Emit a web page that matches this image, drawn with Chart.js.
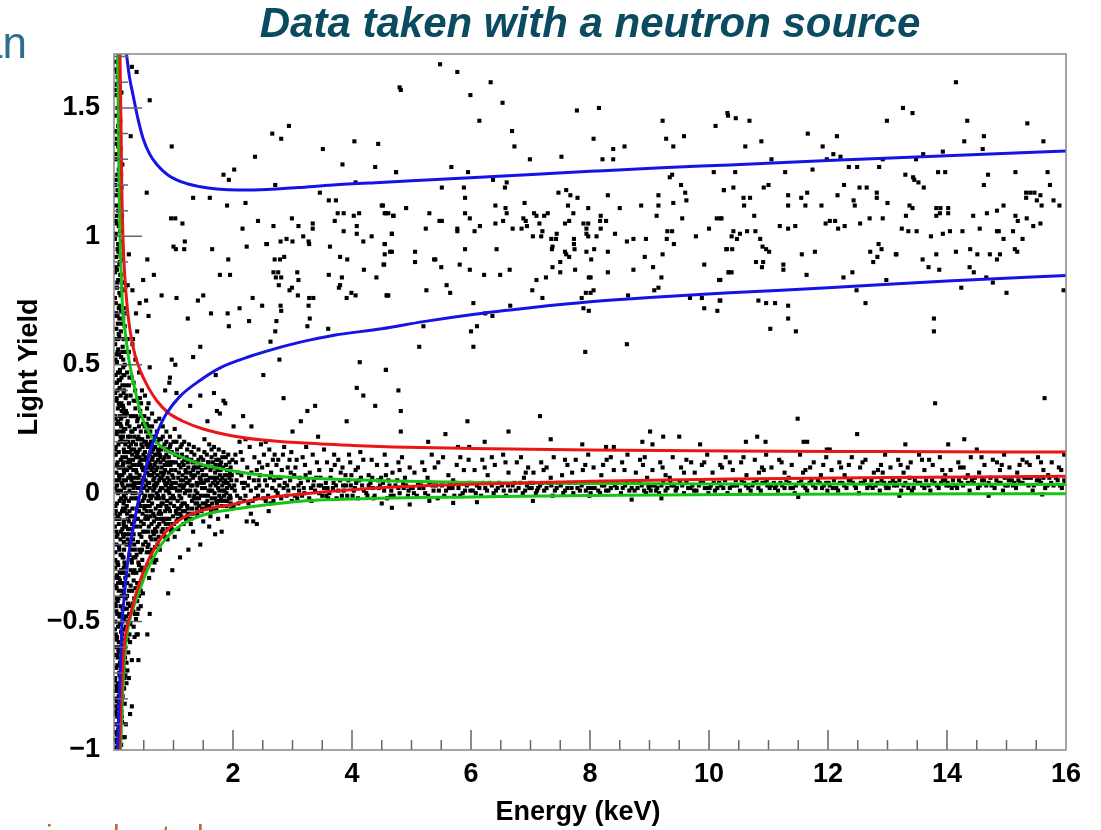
<!DOCTYPE html>
<html>
<head>
<meta charset="utf-8">
<script src="https://cdn.jsdelivr.net/npm/chart.js@4.4.0/dist/chart.umd.min.js"></script>
<style>
  html, body { margin: 0; padding: 0; background: #fff; overflow: hidden; }
  #wrap { position: relative; width: 1101px; height: 830px; overflow: hidden; }
  #plot { position: absolute; left: 0; top: 0; }
  .frag { position: absolute; font-family: "Liberation Sans", Arial, sans-serif; white-space: nowrap; line-height: 1; }
</style>
</head>
<body>
<div id="wrap">
  <canvas id="plot" width="1101" height="830"></canvas>
  <!-- cut-off slide text around the chart -->
  <div class="frag" style="left:-60px;width:87px;text-align:right;top:21px;font-size:44px;line-height:44px;color:#2f6f8a">an</div>
  <div class="frag" style="left:46px;top:821px;font-size:30px;line-height:30px;color:#c8643c">i</div>
  <div class="frag" style="left:113px;top:821px;font-size:30px;line-height:30px;color:#c8643c">l</div>
  <div class="frag" style="left:162px;top:821px;font-size:30px;line-height:30px;color:#c8643c">t</div>
  <div class="frag" style="left:197px;top:821px;font-size:30px;line-height:30px;color:#c8643c">l</div>
</div>
<script>
/* ---------------- TEXT / TICKS ---------------- */
const titleText   = "Data taken with a neutron source";
const xAxisTitle  = "Energy (keV)";
const yAxisTitle  = "Light Yield";
const xTickValues = [2, 4, 6, 8, 10, 12, 14, 16];
const xTickLabels = ["2", "4", "6", "8", "10", "12", "14", "16"];
const yTickValues = [-1, -0.5, 0, 0.5, 1, 1.5];
const yTickLabels = ["\u22121", "\u22120.5", "0", "0.5", "1", "1.5"];

/* ---------------- FIT CURVES (energy keV, light yield) ---------------- */
const blueUpper = [[.21,1.71],[.26,1.62],[.32,1.55],[.4,1.46],[.49,1.38],[.6,1.32],[.72,1.28],[.9,1.24],[1.16,1.21],[1.45,1.193],[1.73,1.184],[2.1,1.18],[2.57,1.182],[3.1,1.19],[3.68,1.2],[4.47,1.21],[5.5,1.222],[6.7,1.237],[8,1.253],[9.2,1.267],[10.35,1.278],[12,1.295],[14,1.314],[16,1.332]];
const blueLower = [[.06,-1],[.08,-.85],[.1,-.72],[.13,-.53],[.18,-.38],[.24,-.25],[.32,-.14],[.4,-.04],[.49,.047],[.57,.13],[.66,.2],[.77,.26],[.88,.309],[1.1,.375],[1.45,.44],[1.8,.49],[2.29,.533],[2.7,.562],[3.13,.588],[3.7,.615],[4.5,.64],[5.2,.668],[6,.695],[7,.722],[8,.745],[9,.762],[10.35,.78],[12,.8],[14,.826],[16,.848]];
const redUpper  = [[.1,1.71],[.12,1.4],[.13,1.2],[.15,1],[.18,.85],[.22,.73],[.27,.633],[.35,.54],[.44,.477],[.58,.41],[.72,.36],[.9,.315],[1.16,.28],[1.5,.25],[2,.223],[2.5,.207],[3.13,.196],[4,.186],[4.69,.18],[6,.174],[8,.168],[10.35,.164],[13,.162],[16,.16]];
const redLower  = [[.09,-1],[.12,-.8],[.17,-.6],[.28,-.47],[.44,-.34],[.6,-.25],[.88,-.148],[1.16,-.096],[1.5,-.066],[2,-.043],[2.5,-.02],[3.13,-.004],[4.47,.021],[6,.035],[8,.046],[10.35,.055],[13,.061],[16,.066]];
const greenUpper = [[.06,1.71],[.08,1.3],[.1,1],[.13,.8],[.15,.7],[.185,.633],[.25,.52],[.32,.4375],[.45,.31],[.6,.23],[.8,.18],[1.16,.138],[1.5,.11],[2,.086],[2.5,.07],[3.13,.06],[4,.052],[4.69,.047],[6,.042],[8,.038],[10.35,.036],[13,.035],[16,.034]];
const greenLower = [[.11,-1],[.14,-.8],[.18,-.63],[.24,-.52],[.38,-.41],[.6,-.279],[.88,-.174],[1.16,-.12],[1.5,-.085],[2,-.063],[3.13,-.031],[4.47,-.02],[6,-.015],[8,-.009],[10.35,-.005],[13,-.003],[16,-.002]];

/* ---------------- EVENTS (energy keV, light yield) ---------------- */
// near-threshold column
const thresholdColumn = [[.03,1.68],[.06,1.62],[.04,1.55],[.09,1.5],[.02,1.47],[.07,1.43],[.05,1.38],[.11,1.34],[.03,1.3],[.08,1.26],[.04,1.22],[.06,1.18],[.1,1.15],[.02,1.12],[.05,1.08],[.08,1.04],[.03,1.01],[.12,.98],[.06,.95],[.04,.92],[.09,.89],[.02,.86],[.07,.83],[.05,.8],[.11,.77],[.03,.74],[.08,.72],[.06,.69],[.13,.66],[.04,.64],[.09,.61],[.02,.58],[.07,.56],[.12,.53],[.05,.51],[.1,.48],[.03,.46],[.08,.44],[.14,.42],[.06,.4],[.11,.38],[.04,.36],[.09,.34],[.13,.32],[.02,.3],[.07,.28],[.12,.26],[.05,.24],[.15,.22],[.1,.2],[.03,.18],[.08,.16],[.14,.14],[.06,.12],[.11,.1],[.04,.08],[.09,.06],[.13,.04],[.02,.02],[.07,0],[.12,-.02],[.05,-.04],[.15,-.06],[.1,-.08],[.03,-.1],[.08,-.12],[.14,-.14],[.06,-.16],[.11,-.18],[.04,-.2],[.09,-.22],[.13,-.24],[.02,-.26],[.07,-.28],[.12,-.3],[.05,-.32],[.1,-.34],[.03,-.36],[.08,-.38],[.13,-.4],[.06,-.42],[.11,-.44],[.04,-.46],[.09,-.48],[.02,-.5],[.07,-.52],[.12,-.54],[.05,-.56],[.1,-.58],[.03,-.6],[.08,-.62],[.06,-.64],[.11,-.66],[.04,-.68],[.09,-.7],[.02,-.72],[.07,-.74],[.05,-.76],[.1,-.78],[.03,-.8],[.08,-.82],[.06,-.84],[.04,-.86],[.09,-.88],[.02,-.9],[.07,-.92],[.05,-.94],[.03,-.96],[.08,-.98],[.04,-.99],
  [.05,1.64],[.1,1.58],[.07,1.35],[.02,1.2],[.09,.96],[.04,.7],[.06,.55],[.1,.3],[.03,.15],[.05,-.1],[.07,-.35],[.09,-.6],[.04,-.75],[.06,-.9],[.1,-.95],[.11,-.85],[.12,-.7],[.13,-.62],[.14,-.5],[.03,-.44],[.06,-.27],[.02,-.08],[.08,.05],[.11,.22],[.05,.43],[.08,.62],[.12,.85],[.07,1.1],
  [.015,1.65],[.045,1.59],[.125,1.56],[.085,1.52],[.015,1.41],[.105,1.45],[.035,1.36],[.095,1.31],[.14,1.28],[.055,1.24],[.125,1.19],[.015,1.16],[.085,1.12],[.135,1.08],[.045,1.05],[.105,1.02],[.015,.99],[.075,.94],[.135,.91],[.035,.88],[.105,.85],[.055,.82],[.145,.79],[.015,.76],[.095,.73],[.035,.7],[.155,.68],[.065,.66],[.115,.63],[.015,.6],[.145,.57],[.085,.54],[.025,.52],[.155,.49],[.065,.47],[.125,.45],[.015,.43],[.095,.41],[.16,.39],[.045,.37],[.125,.35],[.065,.33],[.165,.31],[.025,.29],[.105,.27],[.165,.25],[.045,.23],[.125,.21],[.075,.19],[.165,.17],[.015,.15],[.115,.13],[.045,.11],[.165,.09],[.085,.07],[.025,.05],[.145,.03],[.055,.01],[.165,-.01],[.095,-.03],[.025,-.05],[.135,-.07],[.065,-.09],[.165,-.11],[.015,-.13],[.115,-.15],[.045,-.17],[.165,-.19],[.085,-.21],[.025,-.23],[.145,-.25],[.055,-.27],[.165,-.29],[.095,-.31],[.015,-.33],[.135,-.35],[.045,-.37],[.165,-.39],[.075,-.41],[.025,-.43],[.145,-.45],[.055,-.47],[.165,-.49],[.095,-.51],[.015,-.53],[.135,-.55],[.045,-.57],[.155,-.59],[.075,-.61],[.025,-.63],[.135,-.65],[.055,-.67],[.155,-.69],[.095,-.71],[.015,-.73],[.125,-.75],[.045,-.77],[.145,-.79],[.075,-.81],[.025,-.83],[.125,-.85],[.055,-.87],[.135,-.89],[.095,-.91],[.015,-.93],[.115,-.95],[.045,-.97],[.075,-.99],[.105,-.93],[.13,-.81],[.1,-.66],[.12,-.47],[.14,-.31],[.16,-.12],[.14,.07],[.12,.29],[.1,.47],[.09,.68],[.1,.9],[.12,1.24],[.09,1.6],
  [.02,1.57],[.06,1.5],[.1,1.4],[.04,1.32],[.08,1.16],[.12,1.1],[.03,1.06],[.07,.97],[.11,.93],[.05,.87],[.13,.82],[.09,.78],[.03,.69],[.12,.71],[.07,.6],[.14,.55],[.04,.54],[.1,.44],[.16,.46],[.02,.39],[.08,.35],[.15,.34],[.05,.27],[.11,.24],[.17,.2],[.02,.17],[.08,.1],[.15,.11],[.05,.03],[.12,.01],[.17,-.03],[.03,-.07],[.09,-.1],[.15,-.16],[.04,-.15],[.11,-.24],[.17,-.22],[.02,-.29],[.08,-.33],[.14,-.38],[.05,-.41],[.11,-.48],[.17,-.53],[.03,-.55],[.08,-.58],[.14,-.6],[.05,-.63],[.11,-.7],[.16,-.76],[.03,-.77],[.08,-.79],[.13,-.87],[.05,-.81],[.1,-.89],[.04,-.93],[.09,-.96],[.12,-.98],[.06,-.97],[.02,-.85],[.15,-.95]];

// low-energy fan, 0.15 - 2 keV
const lowEnergyFan = [[.17,.82],[.2,.7],[.23,.6],[.18,.5],[.26,.45],[.21,.38],[.16,.33],[.28,.3],[.19,.25],[.24,.2],[.17,.16],[.27,.12],[.22,.09],[.16,.05],[.29,.03],[.2,0],[.25,-.03],[.18,-.07],[.23,-.1],[.28,-.14],[.16,-.17],[.21,-.2],[.26,-.24],[.19,-.28],[.24,-.32],[.17,-.36],[.22,-.4],[.27,-.44],[.2,-.48],[.18,-.53],[.23,-.57],[.16,-.62],[.21,-.66],[.19,-.71],[.17,-.76],[.25,.55],[.19,.42],[.27,.22],[.2,.14],[.24,.06],[.17,-.01],[.26,-.07],[.2,-.13],[.29,.17],[.22,.27],[.18,.65],[.28,-.3],[.16,-.45],[.25,.35],
  [.31,.58],[.36,.52],[.42,.47],[.33,.43],[.47,.4],[.38,.36],[.44,.32],[.32,.3],[.49,.27],[.35,.25],[.41,.22],[.46,.19],[.34,.17],[.39,.15],[.45,.13],[.31,.11],[.37,.09],[.43,.07],[.48,.05],[.33,.04],[.4,.02],[.46,0],[.35,-.02],[.42,-.04],[.31,-.06],[.48,-.08],[.38,-.1],[.44,-.13],[.33,-.16],[.4,-.19],[.47,-.22],[.36,-.25],[.42,-.28],[.32,-.31],[.39,-.35],[.45,-.38],[.34,-.41],[.41,-.45],[.37,-.49],[.43,.12],[.36,.06],[.47,.1],[.32,.2],[.4,.29],[.45,.24],[.38,-.06],[.49,-.15],[.34,-.2],[.43,.17],[.31,0],[.46,.3],[.37,.14],
  [.52,.38],[.58,.35],[.64,.31],[.7,.28],[.55,.27],[.61,.24],[.67,.22],[.73,.2],[.51,.2],[.57,.18],[.63,.16],[.69,.15],[.74,.13],[.53,.14],[.59,.12],[.65,.1],[.71,.09],[.56,.08],[.62,.07],[.68,.06],[.5,.06],[.73,.04],[.54,.03],[.6,.02],[.66,.01],[.72,0],[.52,-.01],[.58,-.03],[.64,-.04],[.7,-.06],[.55,-.07],[.61,-.09],[.67,-.11],[.73,-.13],[.5,-.12],[.57,-.15],[.63,-.18],[.69,-.21],[.53,-.19],[.6,-.23],[.66,-.26],[.56,-.28],[.62,.2],[.68,.11],[.74,.17],[.54,.1],[.6,-.01],[.66,.05],[.71,-.02],[.58,.29],[.65,.14],[.72,.24],[.52,-.05],[.63,.09],[.57,.04],
  [.76,.29],[.82,.26],[.88,.24],[.94,.22],[.79,.21],[.85,.19],[.91,.17],[.97,.16],[.77,.15],[.83,.13],[.89,.12],[.95,.11],[.8,.1],[.86,.09],[.92,.08],[.98,.07],[.78,.06],[.84,.05],[.9,.04],[.96,.03],[.81,.02],[.87,.01],[.93,0],[.99,-.01],[.76,-.02],[.82,-.04],[.88,-.05],[.94,-.07],[.79,-.08],[.85,-.1],[.91,-.12],[.97,-.14],[.8,-.15],[.86,-.17],[.92,.14],[.78,.12],[.84,.08],[.9,.06],[.96,.09],[.81,.18],[.87,.03],[.93,.05],[.99,.12],[.83,-.01],[.89,-.03],
  [1.02,.25],[1.1,.22],[1.18,.2],[1.26,.19],[1.34,.18],[1.42,.17],[1.06,.17],[1.14,.15],[1.22,.14],[1.3,.13],[1.38,.12],[1.46,.11],[1.04,.12],[1.12,.1],[1.2,.09],[1.28,.08],[1.36,.07],[1.44,.06],[1.08,.06],[1.16,.05],[1.24,.04],[1.32,.03],[1.4,.03],[1.48,.02],[1.03,.02],[1.11,.01],[1.19,0],[1.27,-.01],[1.35,-.01],[1.43,-.02],[1.07,-.03],[1.15,-.04],[1.23,-.05],[1.31,-.06],[1.39,-.06],[1.47,-.07],[1.05,-.08],[1.13,-.09],[1.21,-.1],[1.29,-.1],[1.01,-.12],[1.17,.11],[1.25,.1],[1.33,.09],[1.41,.08],[1.49,.07],[1.09,.08],[1.45,.04],[1.37,.01],[1.13,.03],[1.21,.06],[1.29,.03],[1.35,.15],[1.23,.17],[1.4,-.04],[1.1,-.01],[1.32,.12],[1.46,.14],
  [1.52,.21],[1.6,.19],[1.68,.18],[1.76,.17],[1.84,.16],[1.92,.15],[1.56,.15],[1.64,.14],[1.72,.13],[1.8,.12],[1.88,.11],[1.96,.1],[1.54,.1],[1.62,.09],[1.7,.08],[1.78,.07],[1.86,.07],[1.94,.06],[1.58,.05],[1.66,.04],[1.74,.04],[1.82,.03],[1.9,.02],[1.98,.02],[1.53,.02],[1.61,.01],[1.69,0],[1.77,-.01],[1.85,-.01],[1.93,-.02],[1.57,-.03],[1.65,-.04],[1.73,-.04],[1.81,-.05],[1.89,-.05],[1.97,-.06],[1.55,-.06],[1.63,-.07],[1.71,.11],[1.79,.09],[1.87,.05],[1.95,.08],[1.59,.12],[1.67,.06],[1.75,.02],[1.83,.1],[1.91,.04],[1.99,.13],[1.51,.04],[1.7,-.02],
  [.6,-.47],[.38,-.55],[.56,-.55],[.41,-.65],[.3,-.65],[.3,-.83],[.27,-.86],[.25,-.72],[.2,-.9],[.18,-.95],
  [1.11,-.25],[.91,-.39],[1.45,-.2],[1.25,-.22],[1.33,-.15],[.98,-.3],[1.6,-.13],[1.9,-.09],[2.3,-.08],[2.6,-.07],[1.75,-.1],[1.7,-.16],[1.81,-.15],[1.62,-.09],[1.5,-.11],[2.34,-.11],[2.4,-.12],[2.23,-.11]];

// second and third pass over the dense part of the fan
const lowEnergyFan2 = [[.16,.6],[.19,.55],[.22,.47],[.25,.42],[.28,.38],[.17,.4],[.2,.32],[.23,.28],[.26,.26],[.29,.24],[.16,.24],[.19,.19],[.22,.16],[.25,.13],[.28,.1],[.17,.08],[.2,.05],[.23,.03],[.26,.01],[.29,-.02],[.16,-.04],[.19,-.06],[.22,-.08],[.25,-.11],[.28,-.09],[.17,-.13],[.2,-.16],[.23,-.18],[.26,-.2],[.29,-.22],[.16,-.25],[.19,-.33],[.22,-.35],[.25,-.38],[.28,-.36],[.17,-.45],[.2,-.52],[.23,-.5],[.26,-.55],[.16,-.68],[.19,-.6],[.21,-.74],[.24,-.62],[.27,-.58],[.18,-.82],
  [.3,.45],[.33,.36],[.36,.33],[.39,.28],[.42,.26],[.45,.21],[.48,.18],[.31,.24],[.34,.22],[.37,.19],[.4,.16],[.43,.14],[.46,.11],[.49,.09],[.32,.13],[.35,.11],[.38,.08],[.41,.06],[.44,.04],[.47,.02],[.3,.06],[.33,.02],[.36,0],[.39,-.02],[.42,-.07],[.45,-.05],[.48,-.03],[.31,-.09],[.34,-.11],[.37,-.13],[.4,-.1],[.43,-.16],[.46,-.17],[.49,-.2],[.32,-.18],[.35,-.22],[.38,-.24],[.41,-.27],[.44,-.3],[.47,-.33],[.3,-.27],[.33,-.34],[.36,-.37],[.39,-.42],[.42,-.4],[.31,-.43],[.35,-.47],[.45,-.44],[.33,-.52],[.4,-.55],
  [.51,.3],[.54,.24],[.57,.22],[.6,.19],[.63,.2],[.66,.17],[.69,.18],[.72,.15],[.75,.16],[.78,.14],[.52,.16],[.55,.13],[.58,.1],[.61,.11],[.64,.07],[.67,.08],[.7,.04],[.73,.07],[.76,.05],[.79,.08],[.5,.02],[.53,.05],[.56,.01],[.59,.04],[.62,-.02],[.65,-.01],[.68,.02],[.71,.03],[.74,-.01],[.77,.01],[.51,-.06],[.54,-.09],[.57,-.1],[.6,-.05],[.63,-.12],[.66,-.08],[.69,-.14],[.72,-.1],[.75,-.08],[.78,-.05],[.52,-.15],[.55,-.23],[.58,-.2],[.61,-.17],[.64,-.22],[.67,-.16],[.7,-.18],[.73,-.2],[.76,-.12],[.79,-.1],[.53,-.3],[.59,-.33],[.65,-.3],[.71,-.26],[.77,-.22],
  [.82,.22],[.88,.2],[.94,.18],[1,.2],[1.06,.15],[1.12,.18],[1.18,.13],[1.24,.12],[1.3,.16],[1.36,.1],[1.42,.13],[1.48,.09],[.85,.14],[.91,.11],[.97,.12],[1.03,.09],[1.09,.11],[1.15,.07],[1.21,.08],[1.27,.05],[1.33,.06],[1.39,.04],[1.45,.06],[.8,.06],[.86,.04],[.92,.02],[.98,.04],[1.04,.04],[1.1,.03],[1.16,.02],[1.22,.01],[1.28,.01],[1.34,-.02],[1.4,0],[1.46,-.01],[.83,-.02],[.89,-.06],[.95,-.04],[1.01,-.05],[1.07,-.06],[1.13,-.05],[1.19,-.07],[1.25,-.08],[1.31,-.03],[1.37,-.04],[1.43,-.05],[1.49,-.04],[.81,-.1],[.87,-.12],[.93,-.1],[.99,-.09],[1.05,-.11],[1.11,-.08],[1.17,-.12],[1.23,-.09],[1.29,-.12],[.84,-.16],[.9,-.18],[.96,-.15],[1.02,-.17],[1.08,-.14],
  [1.52,.16],[1.58,.12],[1.64,.17],[1.7,.15],[1.76,.13],[1.82,.14],[1.88,.14],[1.94,.12],[1.55,.07],[1.61,.06],[1.67,.1],[1.73,.06],[1.79,.05],[1.85,.04],[1.91,.07],[1.97,.05],[1.53,-.01],[1.59,.01],[1.65,.01],[1.71,.03],[1.77,.01],[1.83,.01],[1.89,0],[1.95,-.01],[1.54,-.04],[1.6,-.05],[1.66,-.06],[1.72,-.06],[1.78,-.03],[1.84,-.03],[1.9,-.03],[1.96,-.04],
  [.155,.52],[.175,.46],[.195,.37],[.215,.31],[.235,.22],[.255,.18],[.275,.07],[.295,.05],[.155,.12],[.175,.02],[.195,-.02],[.215,-.05],[.235,-.14],[.255,-.16],[.275,-.19],[.295,-.26],[.155,-.31],[.175,-.27],[.195,-.41],[.215,-.45],[.235,-.43],[.255,-.47],[.275,-.51],[.165,-.57],[.185,-.64],[.205,-.57],[.225,-.69],[.175,-.72],[.165,.72],[.185,.3],[.205,.2],[.225,.12],[.245,.1],[.265,.16],[.285,.19],[.305,.15],[.325,.09],[.345,.03],[.305,-.12],[.325,-.25],[.345,-.3],[.305,-.38],[.325,-.46],[.345,-.56],
  [.355,.4],[.375,.3],[.395,.21],[.415,.11],[.435,.02],[.455,-.11],[.475,-.26],[.495,-.3],[.365,.16],[.385,.04],[.405,-.07],[.425,-.22],[.445,-.23],[.465,-.29],[.485,-.39],[.505,.13],[.525,.09],[.545,.19],[.565,.12],[.585,.07],[.505,-.02],[.525,-.1],[.545,-.05],[.565,-.21],[.585,-.13],[.375,-.31],[.395,-.47],[.415,-.36],[.435,.37],[.455,.35],[.475,.21],[.495,.15],[.515,.26],[.535,.2],[.555,.33],[.575,.26],[.595,.15],
  [.61,.16],[.64,.13],[.67,.03],[.7,.12],[.73,.1],[.76,.21],[.79,.02],[.82,.07],[.85,.11],[.88,.15],[.91,.01],[.94,.12],[.97,.02],[1,.06],[1.03,.15],[1.06,.01],[1.09,.14],[1.12,.05],[1.15,.12],[1.18,.03],[.62,-.07],[.65,-.15],[.68,-.09],[.71,-.15],[.74,-.05],[.77,-.07],[.8,-.04],[.83,-.11],[.86,-.07],[.89,-.1],[.92,-.06],[.95,-.02],[.98,-.12],[1.01,-.02],[1.04,-.07],[1.07,-.1],[1.1,-.06],[1.13,-.02],[1.16,-.07],[1.19,-.04],[.63,-.25],[.68,-.27],[.75,-.17],[.82,-.14],[.9,-.14],[.64,.26],[.7,.22],[.79,.17],[.87,.17],[.95,.19],[1.05,.2],[1.14,.19],
  [1.22,.04],[1.26,.13],[1.3,.07],[1.34,.1],[1.38,-.02],[1.42,.1],[1.46,.05],[1.5,.13],[1.54,.05],[1.58,-.01],[1.62,.03],[1.66,.12],[1.7,.05],[1.74,.09],[1.78,.11],[1.82,.06],[1.86,.01],[1.9,.09],[1.94,.03],[1.98,.07],[1.24,-.06],[1.32,-.08],[1.4,-.08],[1.48,-.06],[1.56,-.05],[1.64,-.02],[1.72,-.03],[1.8,-.02],[1.88,-.03],[1.96,-.02]];

// main low light-yield band, 2 - 16 keV
const lowBand = [[2.03,.01],[2.09,-.04],[2.15,.04],[2.21,-.01],[2.27,.06],[2.33,-.03],[2.39,.02],[2.45,.07],[2.51,-.02],[2.57,.03],[2.63,-.04],[2.69,.05],[2.75,0],[2.81,-.02],[2.87,.04],[2.93,.01],[2.99,-.03],[2.06,.05],[2.18,.02],[2.3,.01],[2.42,-.01],[2.54,.05],[2.66,.02],[2.78,.03],[2.9,-.01],
  [2.05,.12],[2.13,.16],[2.24,.1],[2.36,.14],[2.47,.19],[2.58,.11],[2.7,.15],[2.82,.09],[2.95,.13],[2.11,.2],[2.4,.09],[2.61,.17],[2.86,.18],[2.73,.11],
  [3.02,.02],[3.08,-.02],[3.14,.04],[3.2,0],[3.26,.05],[3.32,-.03],[3.38,.01],[3.44,.03],[3.5,-.01],[3.56,.04],[3.62,0],[3.68,.02],[3.74,-.02],[3.8,.05],[3.86,.01],[3.92,-.01],[3.98,.03],[3.11,.01],[3.35,.03],[3.59,.02],[3.83,-.01],
  [3.05,.1],[3.17,.14],[3.29,.08],[3.41,.12],[3.53,.17],[3.65,.09],[3.77,.13],[3.89,.07],[3.95,.15],[3.23,.18],[3.47,.06],[3.71,.11],
  [4.03,.01],[4.1,-.02],[4.17,.03],[4.24,0],[4.31,.04],[4.38,-.01],[4.45,.02],[4.52,.04],[4.59,-.02],[4.66,.01],[4.73,.03],[4.8,0],[4.87,.02],[4.94,-.01],[4.07,.04],[4.35,.02],[4.63,.03],[4.91,.03],
  [4.06,.09],[4.19,.13],[4.28,.07],[4.42,.11],[4.55,.15],[4.68,.08],[4.78,.12],[4.97,.1],[4.14,.16],[4.49,.06],[4.84,.14],
  [5.02,.02],[5.09,-.01],[5.16,.03],[5.23,0],[5.3,.04],[5.37,.01],[5.44,-.02],[5.51,.03],[5.58,.01],[5.65,.04],[5.72,-.01],[5.79,.02],[5.86,0],[5.93,.03],[5.99,.01],[5.13,.02],[5.41,.03],[5.69,.02],
  [5.05,.08],[5.18,.12],[5.27,.06],[5.39,.1],[5.53,.14],[5.62,.07],[5.76,.11],[5.88,.09],[5.96,.13],[5.34,.15],[5.7,.05],
  [6.03,.01],[6.1,.03],[6.17,-.01],[6.24,.02],[6.31,.04],[6.38,0],[6.45,.02],[6.52,.03],[6.59,-.01],[6.66,.01],[6.73,.04],[6.8,.02],[6.87,0],[6.94,.03],[6.14,.02],[6.42,.01],[6.7,.03],[6.98,.02],
  [6.06,.09],[6.19,.13],[6.28,.07],[6.4,.11],[6.54,.15],[6.63,.08],[6.77,.12],[6.89,.06],[6.96,.1],[6.35,.14],[6.84,.14],
  [7.02,.02],[7.09,0],[7.16,.03],[7.23,.01],[7.3,.04],[7.37,-.01],[7.44,.02],[7.51,.03],[7.58,.01],[7.65,.04],[7.72,0],[7.79,.02],[7.86,.03],[7.93,.01],[7.99,-.01],[7.13,.02],[7.41,.01],[7.69,.02],
  [7.05,.08],[7.18,.12],[7.27,.1],[7.39,.14],[7.53,.07],[7.62,.11],[7.76,.13],[7.88,.09],[7.97,.15],[7.34,.06],[7.7,.08],
  [8.03,.02],[8.1,.04],[8.17,0],[8.24,.03],[8.31,.01],[8.38,.04],[8.45,.02],[8.52,0],[8.59,.03],[8.66,.01],[8.73,.04],[8.8,.02],[8.87,.03],[8.94,0],[8.14,.01],[8.42,.03],[8.7,.02],[8.98,.03],
  [8.06,.1],[8.19,.07],[8.28,.13],[8.4,.09],[8.54,.12],[8.63,.15],[8.77,.08],[8.89,.11],[8.96,.06],[8.35,.14],[8.84,.13],
  [9.02,.01],[9.09,.03],[9.16,0],[9.23,.04],[9.3,.02],[9.37,.03],[9.44,.01],[9.51,.04],[9.58,0],[9.65,.02],[9.72,.03],[9.79,.01],[9.86,.04],[9.93,.02],[9.99,0],[9.13,.02],[9.41,.03],[9.69,.02],
  [9.05,.09],[9.18,.12],[9.27,.07],[9.39,.14],[9.53,.1],[9.62,.13],[9.76,.08],[9.88,.11],[9.97,.15],[9.34,.06],[9.7,.12],
  [10.03,.03],[10.1,.01],[10.17,.04],[10.24,.02],[10.31,0],[10.38,.03],[10.45,.05],[10.52,.01],[10.59,.04],[10.66,.02],[10.73,.03],[10.8,.05],[10.87,.01],[10.94,.04],[10.14,.02],[10.42,.03],[10.7,.01],[10.98,.03],
  [10.06,.08],[10.19,.11],[10.28,.14],[10.4,.09],[10.54,.12],[10.63,.07],[10.77,.13],[10.89,.1],[10.96,.15],[10.35,.12],[10.84,.08],
  [11.02,.02],[11.09,.04],[11.16,.01],[11.23,.03],[11.3,.05],[11.37,.02],[11.44,0],[11.51,.04],[11.58,.03],[11.65,.01],[11.72,.05],[11.79,.02],[11.86,.04],[11.93,.03],[11.99,.01],[11.13,.03],[11.41,.02],[11.69,.04],
  [11.05,.1],[11.18,.13],[11.27,.08],[11.39,.11],[11.53,.15],[11.62,.09],[11.76,.12],[11.88,.07],[11.97,.14],[11.34,.06],[11.7,.1],
  [12.03,.03],[12.1,.05],[12.17,.01],[12.24,.04],[12.31,.02],[12.38,.05],[12.45,.03],[12.52,0],[12.59,.04],[12.66,.02],[12.73,.05],[12.8,.03],[12.87,.01],[12.94,.04],[12.14,.02],[12.42,.04],[12.7,.03],[12.98,.02],
  [12.06,.09],[12.19,.12],[12.28,.07],[12.4,.14],[12.54,.1],[12.63,.13],[12.77,.08],[12.89,.11],[12.96,.15],[12.35,.11],[12.84,.09],
  [13.02,.02],[13.09,.05],[13.16,.03],[13.23,.01],[13.3,.04],[13.37,.06],[13.44,.02],[13.51,.04],[13.58,.03],[13.65,.05],[13.72,.01],[13.79,.04],[13.86,.02],[13.93,.05],[13.99,.03],[13.13,.04],[13.41,.01],[13.69,.03],
  [13.05,.1],[13.18,.13],[13.27,.08],[13.39,.12],[13.53,.15],[13.62,.09],[13.76,.11],[13.88,.14],[13.97,.07],[13.34,.1],[13.7,.13],
  [14.03,.03],[14.1,.05],[14.17,.02],[14.24,.04],[14.31,.06],[14.38,.01],[14.45,.04],[14.52,.02],[14.59,.05],[14.66,.03],[14.73,.06],[14.8,.02],[14.87,.04],[14.94,.01],[14.14,.03],[14.42,.05],[14.7,.04],[14.98,.03],
  [14.06,.09],[14.19,.12],[14.28,.1],[14.4,.14],[14.54,.08],[14.63,.11],[14.77,.13],[14.89,.09],[14.96,.15],[14.35,.07],[14.84,.12],
  [15.02,.03],[15.09,.05],[15.16,.02],[15.23,.04],[15.3,.06],[15.37,.03],[15.44,.01],[15.51,.05],[15.58,.04],[15.65,.02],[15.72,.06],[15.79,.03],[15.86,.05],[15.93,.02],[15.99,.04],[15.13,.04],[15.41,.06],[15.69,.03],
  [15.05,.1],[15.18,.08],[15.27,.13],[15.39,.11],[15.53,.14],[15.62,.09],[15.76,.12],[15.88,.1],[15.97,.15],[15.34,.12],[15.7,.07],
  [4.67,-.057],[4.97,-.044],[5.7,-.038],[5.3,-.03],[7.04,-.03],[4.5,-.04],[8.7,-.025],[9.2,-.02],[6.1,-.035],[11.5,-.015],[13.2,-.01],[14.7,-.01],[15.6,-.005]];

// second pass over the band
const lowBand2 = [[2.01,-.05],[2.08,.08],[2.12,-.02],[2.2,.04],[2.26,-.04],[2.35,.05],[2.44,.03],[2.5,.01],[2.59,-.01],[2.68,-.03],[2.76,.06],[2.85,.02],[2.96,.05],[2.04,.15],[2.16,.13],[2.28,.18],[2.44,.12],[2.52,.15],[2.64,.08],[2.76,.13],[2.92,.1],[2.98,.16],[2.21,.21],[2.55,.2],
  [3.04,-.01],[3.12,.06],[3.19,.02],[3.28,-.02],[3.36,.05],[3.45,0],[3.53,.02],[3.6,-.02],[3.69,.04],[3.77,.01],[3.85,.03],[3.94,.05],[3.07,.13],[3.21,.11],[3.34,.15],[3.45,.09],[3.58,.12],[3.7,.15],[3.84,.1],[3.97,.12],
  [4.01,-.01],[4.12,.05],[4.2,.01],[4.28,.03],[4.36,-.02],[4.44,.05],[4.54,.01],[4.61,.05],[4.7,-.01],[4.78,.02],[4.86,.04],[4.95,.01],[4.1,.1],[4.33,.13],[4.58,.11],[4.8,.09],
  [5.04,0],[5.11,.04],[5.2,.02],[5.28,-.01],[5.35,.03],[5.46,.01],[5.55,-.01],[5.63,.02],[5.74,.04],[5.82,-.01],[5.9,.01],[5.97,.04],[5.22,.09],[5.45,.12],[5.82,.14],
  [6.01,.04],[6.08,0],[6.2,.04],[6.27,.01],[6.35,.03],[6.47,.04],[6.55,.01],[6.62,.03],[6.75,.01],[6.83,.04],[6.91,.01],[6.99,.04],[6.23,.1],[6.58,.12],[6.92,.08],
  [7.04,.04],[7.11,.01],[7.2,.04],[7.27,.02],[7.35,.03],[7.46,.04],[7.55,0],[7.62,.02],[7.75,.04],[7.83,.01],[7.9,.04],[7.97,.02],[7.22,.09],[7.58,.13],[7.92,.11],
  [8.01,0],[8.08,.02],[8.2,.03],[8.27,.01],[8.35,.02],[8.47,.04],[8.55,.02],[8.62,.04],[8.75,.01],[8.83,.04],[8.91,.01],[8.99,.02],[8.22,.11],[8.58,.09],[8.92,.14],
  [9.04,.03],[9.11,.01],[9.2,.03],[9.27,.01],[9.35,.04],[9.46,.02],[9.55,.03],[9.62,.04],[9.75,.01],[9.83,.03],[9.9,.04],[9.97,.02],[9.22,.1],[9.58,.08],[9.92,.12],
  [10.01,.02],[10.08,.04],[10.2,.03],[10.27,.05],[10.35,.02],[10.47,.03],[10.55,.05],[10.62,.03],[10.75,.04],[10.83,.02],[10.9,.04],[10.97,.05],[10.22,.1],[10.58,.14],[10.92,.09],
  [11.04,.03],[11.11,.02],[11.2,.04],[11.27,.02],[11.35,.04],[11.46,.03],[11.55,.05],[11.62,.02],[11.75,.03],[11.83,.05],[11.9,.02],[11.97,.04],[11.22,.12],[11.58,.08],[11.92,.11],
  [12.01,.04],[12.08,.02],[12.2,.04],[12.27,.03],[12.35,.05],[12.47,.02],[12.55,.04],[12.62,.05],[12.75,.02],[12.83,.04],[12.9,.05],[12.97,.03],[12.22,.1],[12.58,.12],[12.92,.08],
  [13.04,.04],[13.11,.03],[13.2,.05],[13.27,.03],[13.35,.02],[13.46,.05],[13.55,.04],[13.62,.02],[13.75,.05],[13.83,.03],[13.9,.04],[13.97,.05],[13.22,.11],[13.58,.13],[13.92,.09],
  [14.01,.04],[14.08,.02],[14.2,.05],[14.27,.03],[14.35,.04],[14.47,.06],[14.55,.03],[14.62,.05],[14.75,.03],[14.83,.05],[14.9,.04],[14.97,.06],[14.22,.1],[14.58,.14],[14.92,.11],
  [15.04,.05],[15.11,.03],[15.2,.05],[15.27,.04],[15.35,.06],[15.46,.03],[15.55,.05],[15.62,.06],[15.75,.04],[15.83,.06],[15.9,.03],[15.97,.05],[15.22,.11],[15.58,.12],[15.92,.09],
  [2.02,.03],[2.07,-.01],[2.14,.07],[2.19,-.03],[2.25,.03],[2.31,.08],[2.37,-.02],[2.43,.05],[2.49,.1],[2.55,-.03],[2.62,.06],[2.67,.13],[2.72,.01],[2.8,.06],[2.84,.15],[2.91,.03],[2.97,.08],[3.03,.07],[3.1,.03],[3.16,-.01],[3.22,.07],[3.31,.02],[3.4,.06],[3.48,.03],[3.57,-.01],[3.64,.06],[3.73,.03],[3.81,.08],[3.9,.03],[3.99,.07],[4.05,.02],[4.15,.06],[4.26,-.01],[4.34,.06],[4.47,.03],[4.57,.07],[4.65,-.01],[4.76,.05],[4.89,.06],[4.99,.02]];

// sparse events between the bands
const midEvents = [[1.45,.57],[1.33,.53],[.97,.52],[1.03,.5],[.6,.49],[.94,.45],[.93,.43],[.86,.4],[1.05,.39],[1.45,.38],[1.28,.34],[1.71,.46],[1.68,.39],[1.84,.36],[1.87,.35],[1.73,.32],[1.78,.31],[1.57,.28],[2.01,.26],[2.17,.3],[2.31,.26],[2.51,.46],[2.63,.59],[2.78,.52],[2.85,.37],[3,.24],[3.25,.32],[3.38,.34],[3.14,.28],[3.43,.22],[3.91,.28],[4.13,.51],[4.08,.41],[4.19,.38],[4.39,.34],[4.57,.48],[4.78,.4],[4.82,.32],[4.82,.24],[5.94,.28],[7.16,.3],[5.57,.23],[6.63,.24],[7.34,.21],[5.28,.2],[6.23,.2],[7.87,.19],[8.88,.2],[9.01,.24],[9.23,.22],[9.5,.22],[9.85,.19],[9.05,.19],[8.27,.18],[8.4,.18],[5.78,.18],[5.97,.18],[13.8,.35],[15.64,.37],[11.49,.29],[12.49,.23],[10.62,.2],[10.81,.22],[10.95,.2],[11.59,.2],[11.65,.2],[13.3,.19],[14.02,.19],[14.29,.21],[11.98,.17],[12.03,.17],[14.5,.17]];

// upper (electron-recoil like) band
const upperBand = [[.3,1.66],[.38,1.64],[.6,1.53],[.28,1.39],[.97,1.35],[.55,1.17],[2.37,1.31],[2.66,1.4],[2.81,1.38],[2.94,1.43],[3.51,1.34],[4.04,1.37],[4.44,1.36],[4.8,1.58],[3.84,1.28],[4.39,1.27],[4.74,1.25],[4.06,1.21],[1.84,1.24],[2.02,1.26],[1.93,1.22],[2.71,1.2],[1.33,1.15],[1.61,1.15],[1.9,1.12],[2.21,1.13],[3.46,1.17],[3.61,1.14],[3.73,1.14],[.96,1.07],[1.03,1.07],[1.15,1.05],[1.19,.98],[1,.96],[1.04,.95],[1.18,.95],[1.65,.95],[2.16,1.03],[2.42,1.06],[2.68,1.04],[2.99,1.07],[3.1,1.04],[3.34,1.05],[3.34,1.03],[2.57,.97],[2.8,.98],[2.9,.99],[3,.98],[3.18,1],[3.27,.98],[3.28,.97],[3.71,1.06],[3.76,1.09],[3.86,1.09],[4.03,1.08],[4.12,1.09],[4.08,1.04],[3.86,1.02],[4.19,.98],[4.33,1],[4.52,1.12],[4.57,1.09],[4.7,1.08],[4.67,1.01],[4.55,.97],[4.64,.94],[2.23,.96],[2.56,.97],[2.7,.91],[2.79,.91],[2.86,.92],[2.68,.86],[2.76,.86],[2.72,.84],[2.81,.84],[2.77,.81],[3.08,.86],[3.1,.83],[2.99,.8],[2.95,.79],[1.78,.85],[1.95,.85],[1.92,.91],[.56,.91],[.67,.85],[.49,.83],[.8,.77],[1.05,.76],[1.41,.75],[1.5,.77],[1.24,.68],[1.63,.7],[1.91,.7],[1.93,.65],[2.11,.72],[2.27,.67],[2.33,.76],[2.49,.73],[2.8,.73],[2.81,.71],[3.09,.77],[3.27,.73],[3.29,.68],[3.28,.76],[3.25,.65],[2.73,.67],[2.71,.63],[3.6,.64],[3.35,.76],[3.61,.85],[3.8,.81],[3.91,.76],[3.78,.8],[3.83,.84],[3.99,.78],[4.06,.77],[4.2,.87],[4.41,.84],[4.54,.89],[4.59,.77],[3.92,.91],[3.8,.92],[3.63,.96],[4.08,1.01],[.43,.74],[.54,.75],[.58,.69],[.37,.7],[.39,.63],[.32,.6],[.23,.81],[.31,.79],[.25,.93],
  [5.48,1.67],[5.77,1.64],[4.82,1.57],[6.33,1.6],[5.99,1.55],[6.53,1.52],[6.14,1.45],[6.69,1.41],[6.73,1.35],[7.78,1.49],[8.15,1.5],[8.06,1.38],[6.99,1.3],[7.52,1.31],[8.21,1.3],[8.39,1.34],[8.39,1.3],[8.58,1.35],[9.22,1.45],[9.28,1.38],[9.4,1.35],[9.58,1.39],[10.11,1.43],[10.32,1.47],[5.67,1.27],[4.74,1.25],[5.95,1.25],[6.37,1.22],[5.51,1.19],[5.88,1.19],[5.9,1.15],[6.57,1.19],[6.6,1.21],[9.38,1.24],[9.34,1.23],[9.53,1.2],[9.6,1.17],[9.62,1.14],[10.08,1.25],[10.25,1.18],[9.15,1.16],[8.3,1.16],[7.47,1.17],[7.6,1.18],[7.67,1.16],[7.79,1.15],[6.9,1.13],[4.5,1.12],[4.55,1.09],[4.61,1.09],[4.69,1.08],[4.91,1.11],[5.3,1.09],[5.47,1.06],[5.51,1.06],[5.77,1.03],[5.77,1.02],[5.9,1.09],[5.98,1.07],[6.15,1.04],[6.06,1.02],[6.41,1.12],[6.58,1.11],[6.6,1.09],[6.41,1.05],[6.54,1.06],[6.7,1.03],[6.85,1.03],[6.88,1.07],[6.92,1.06],[6.94,1.04],[7.06,1.09],[7.1,1.08],[7.15,1.05],[7.23,1.08],[7.29,1.09],[7.2,1.02],[7.04,1],[7.18,1],[7.44,1.01],[7.35,.99],[7.43,.99],[7.37,.96],[7.36,.95],[7.58,1.05],[7.65,1.06],[7.72,1.09],[7.63,1.12],[7.89,1.05],[7.97,1.05],[7.94,1.03],[7.94,1.01],[7.97,1],[7.97,1.11],[8.18,1.08],[8.17,1.06],[8.27,1.06],[8.18,1.03],[8.11,1],[8.5,1.11],[8.42,1.01],[7.73,.99],[7.73,.97],[7.74,.95],[7.58,.94],[7.6,.93],[7.65,.92],[8.02,.91],[7.94,.94],[8.07,.95],[8.3,.94],[8.62,.98],[8.73,.99],[8.94,.99],[8.86,1.12],[9.15,1.12],[9.12,1.08],[9.3,1.02],[9.38,1.02],[9.29,.99],[9.41,.97],[9.22,.93],[8.92,.92],[9.06,.88],[9.2,.84],[9.4,1.13],[9.55,1.07],[9.78,1],[10,1.03],[10.13,1.07],[10.21,1.07],[10.3,.95],[9.92,.89],[10.17,.83],[10.33,.86],[8.73,.87],[8.3,.86],[7.98,.84],[8.01,.84],[7.75,.87],[7.5,.86],[7.37,.88],[7.5,.9],[7.26,.84],[7.1,.83],[7.03,.79],[7.2,.76],[6.43,.95],[5.81,.89],[5.98,.87],[6.22,.85],[6.49,.85],[6.65,.87],[5.06,.94],[5.06,.9],[5.38,.91],[5.4,.91],[5.5,.88],[5.9,.95],[5.24,1.03],[4.55,.97],[4.55,.93],[4.67,.94],[4.67,1.01],[4.53,.89],[4.58,.77],[4.61,.77],[5.25,.79],[5.59,.81],[5.65,.78],[6.04,.74],[6.1,.65],[6,.63],[6.24,.7],[6.36,.69],[6.66,.73],[5.2,.65],[5.13,.57],[6.04,.57],[4.57,.48],[7.89,.72],[7.98,.71],[8.06,.79],[8.01,.78],[7.93,.78],[7.86,.76],[7.92,.55],[8.62,.58],[8.64,.77],[9.08,.79],[9.15,.8],[9.68,.76],[9.88,.76],[9.92,.72],[10.14,.71],[10.18,.75],
  [14.15,1.6],[13.26,1.5],[13.42,1.48],[12.99,1.45],[14.34,1.45],[15.35,1.44],[10.31,1.48],[10.45,1.46],[10.68,1.45],[11.66,1.4],[12.15,1.39],[11.91,1.35],[11.98,1.3],[12.09,1.32],[12.21,1.31],[10.61,1.35],[10.88,1.37],[11.05,1.3],[14.29,1.37],[14.62,1.39],[14.6,1.34],[15.62,1.37],[13.6,1.32],[13.93,1.33],[13.48,1.3],[12.92,1.3],[10.44,1.25],[10.41,1.19],[10.25,1.18],[10.92,1.19],[11,1.2],[11.28,1.25],[11.74,1.26],[12.35,1.27],[12.49,1.27],[12.86,1.27],[13.3,1.24],[13.43,1.23],[13.45,1.22],[13.52,1.21],[13.61,1.19],[13.85,1.25],[13.97,1.25],[14.62,1.2],[14.69,1.24],[15.15,1.25],[15.69,1.25],[15.73,1.2],[15.89,1.12],[15.79,1.14],[10.58,1.15],[10.69,1.15],[10.59,1.12],[11.33,1.16],[11.55,1.15],[11.65,1.17],[11.33,1.12],[11.62,1.12],[11.89,1.12],[12.16,1.16],[12.27,1.2],[12.43,1.14],[12.45,1.12],[12.53,1.19],[12.65,1.19],[12.82,1.17],[12.82,1.15],[13,1.13],[12.92,1.07],[13.37,1.12],[13.42,1.11],[13.31,1.08],[13.82,1.11],[13.89,1.11],[14.02,1.11],[14.02,1.09],[13.82,1.08],[13.88,1.09],[14.44,1.08],[14.67,1.09],[14.84,1.1],[14.95,1.12],[15.33,1.17],[15.4,1.17],[15.47,1.17],[15.57,1.16],[15.33,1.15],[15.51,1.14],[15.59,1.12],[15.15,1.08],[15.19,1.06],[15.34,1.07],[15.45,1.04],[15.57,1.05],[10.19,1.07],[10.41,1.02],[10.47,.99],[10.38,1],[10.52,1.01],[10.64,1.02],[10.78,1.02],[10.76,1.08],[10.86,.99],[11.19,1.04],[11.33,1.03],[11.45,1.04],[11.96,1.05],[12.03,1.06],[12.12,1.06],[12.17,1.03],[12.28,1.04],[12.54,1.05],[12.7,1.07],[13.24,1.03],[13.35,1.02],[13.49,1.02],[13.73,1],[13.93,1.01],[14.05,1.02],[14.26,1.02],[14.55,1.03],[14.84,1.02],[14.87,1.02],[14.95,.99],[15.11,1.02],[15.27,.99],[10.29,.95],[10.39,.95],[10.9,.96],[10.96,.95],[11.01,.94],[10.79,.9],[10.91,.9],[10.89,.88],[11.25,.89],[11.25,.87],[11.56,.93],[11.78,.94],[10.33,.86],[10.38,.86],[10.19,.83],[11.64,.85],[12.71,.94],[12.76,.9],[12.83,.92],[12.85,.97],[12.9,.95],[13.14,.93],[13.15,.93],[12.26,.84],[12.41,.86],[13.59,.91],[13.69,.88],[13.82,.93],[13.87,.87],[14.15,.94],[14.39,.95],[14.51,.93],[14.72,.93],[14.84,.91],[14.89,.93],[14.38,.88],[14.45,.86],[15.14,.95],[15.18,.94],[10.19,.75],[10.83,.75],[10.96,.74],[11.11,.74],[11.33,.73],[11.33,.68],[11.03,.64],[11.46,.63],[12.48,.79],[12.63,.74],[12.98,.83],[13.78,.68],[13.78,.63],[14.24,.8],[14.66,.84],[14.77,.82],[15,.78],[15.96,.79]];
/* ---------------------------------------------- */

const FONT = '"Liberation Sans", Arial, Helvetica, sans-serif';
const toXY = arr => arr.map(p => ({ x: p[0], y: p[1] }));

const allEvents = [].concat(thresholdColumn, lowEnergyFan, lowEnergyFan2, lowBand, lowBand2, midEvents, upperBand);

function curve(points, color) {
    return {
        data: toXY(points),
        showLine: true,
        borderColor: color,
        borderWidth: 3,
        pointRadius: 0,
        fill: false,
        cubicInterpolationMode: 'monotone',
        clip: 0,
        order: 0
    };
}

/* ROOT-style frame, inward ticks and axis titles */
const rootFrame = {
    id: 'rootFrame',
    afterDatasetsDraw(chart) {
        const { ctx, chartArea: a, scales: { x, y } } = chart;
        ctx.save();
        ctx.strokeStyle = '#666';
        ctx.lineWidth = 1.5;
        ctx.beginPath();
        for (let i = 1; i < 32; i++) {
            const px = x.getPixelForValue(i / 2);
            const len = i % 4 === 0 ? 20 : 10;
            ctx.moveTo(px, a.bottom);
            ctx.lineTo(px, a.bottom - len);
        }
        for (let i = -9; i <= 17; i++) {
            const py = y.getPixelForValue(i / 10);
            const len = i % 5 === 0 ? 28 : 14;
            ctx.moveTo(a.left, py);
            ctx.lineTo(a.left + len, py);
        }
        ctx.stroke();
        ctx.strokeStyle = '#888';
        ctx.strokeRect(a.left, a.top, a.right - a.left, a.bottom - a.top);

        // axis titles
        ctx.fillStyle = '#000';
        ctx.font = `bold 27px ${FONT}`;
        ctx.textAlign = 'center';
        ctx.textBaseline = 'alphabetic';
        ctx.fillText(xAxisTitle, 578, 820);
        ctx.translate(37, 367);
        ctx.rotate(-Math.PI / 2);
        ctx.fillText(yAxisTitle, 0, 0);
        ctx.restore();
    }
};

new Chart(document.getElementById('plot'), {
    type: 'scatter',
    data: {
        datasets: [
            curve(blueUpper, '#1414e6'),
            curve(blueLower, '#1414e6'),
            curve(redUpper, '#ec1515'),
            curve(redLower, '#ec1515'),
            curve(greenUpper, '#15c415'),
            curve(greenLower, '#15c415'),
            {
                data: toXY(allEvents),
                pointStyle: 'rect',
                pointRadius: 2.9,
                pointHoverRadius: 2.9,
                backgroundColor: '#000',
                borderWidth: 0,
                clip: 0,
                order: 1
            }
        ]
    },
    options: {
        responsive: false,
        animation: false,
        events: [],
        layout: { padding: { left: 0, right: 35, top: 0, bottom: 0 } },
        plugins: {
            legend: { display: false },
            tooltip: { enabled: false },
            title: {
                display: true,
                text: titleText,
                fullSize: false,
                color: '#0b4b5f',
                font: { family: FONT, size: 42, weight: 'bold', style: 'italic', lineHeight: 1 },
                padding: { top: 4, bottom: 8 }
            }
        },
        scales: {
            x: {
                type: 'linear',
                min: 0,
                max: 16,
                afterBuildTicks: s => { s.ticks = xTickValues.map(v => ({ value: v })); },
                afterFit: s => { s.height = 80; },
                grid: { display: false, drawTicks: false },
                border: { display: false },
                ticks: {
                    autoSkip: false,
                    maxRotation: 0,
                    padding: 8,
                    color: '#000',
                    font: { family: FONT, size: 27, weight: 'bold' },
                    callback: v => xTickLabels[xTickValues.indexOf(v)] ?? ''
                }
            },
            y: {
                type: 'linear',
                min: -1,
                max: 1.71,
                afterBuildTicks: s => { s.ticks = yTickValues.map(v => ({ value: v })); },
                afterFit: s => { s.width = 114; },
                grid: { display: false, drawTicks: false },
                border: { display: false },
                ticks: {
                    autoSkip: false,
                    padding: 14,
                    color: '#000',
                    font: { family: FONT, size: 27, weight: 'bold' },
                    callback: v => yTickLabels[yTickValues.indexOf(v)] ?? ''
                }
            }
        }
    },
    plugins: [rootFrame]
});
</script>
</body>
</html>
